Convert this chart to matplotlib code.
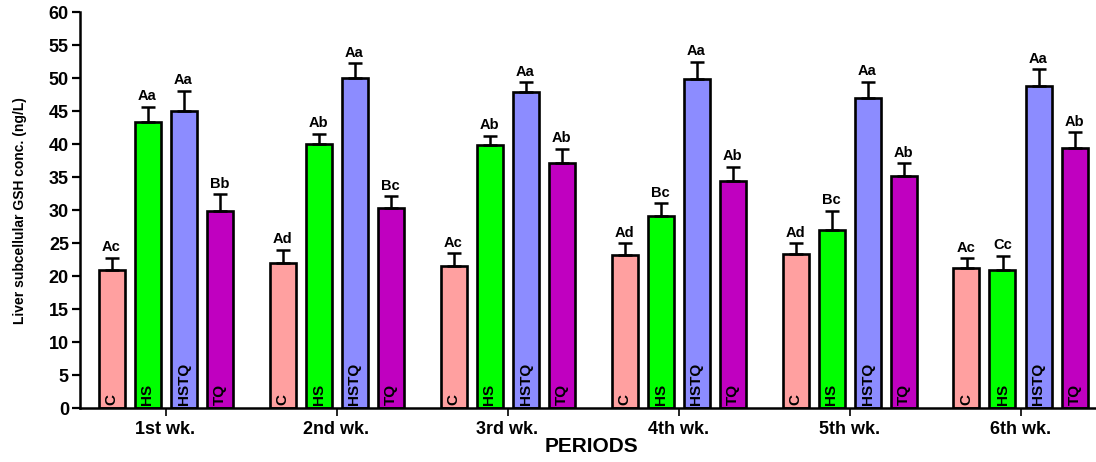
import matplotlib.pyplot as plt
import numpy as np

plt.rcParams["font.family"] = ["Liberation Sans", "DejaVu Sans"]
plt.rcParams["font.weight"] = "bold"

periods = ["1st wk.", "2nd wk.", "3rd wk.", "4th wk.", "5th wk.", "6th wk."]
groups = ["C", "HS", "HSTQ", "TQ"]

c_mean = [20.9, 22.0, 21.5, 23.2, 23.4, 21.2]
hs_mean = [43.4, 40.0, 39.9, 29.1, 27.0, 21.0]
hstq_mean = [45.0, 50.0, 48.0, 49.9, 47.0, 48.9]
tq_mean = [29.9, 30.3, 37.1, 34.5, 35.2, 39.4]

c_err = [1.9, 2.0, 2.0, 1.8, 1.6, 1.5]
hs_err = [2.3, 1.6, 1.4, 2.0, 2.9, 2.1]
hstq_err = [3.1, 2.3, 1.4, 2.6, 2.5, 2.5]
tq_err = [2.5, 1.8, 2.2, 2.1, 1.9, 2.4]

c_sig = ["Ac", "Ad", "Ac", "Ad", "Ad", "Ac"]
hs_sig = ["Aa", "Ab", "Ab", "Bc", "Bc", "Cc"]
hstq_sig = ["Aa", "Aa", "Aa", "Aa", "Aa", "Aa"]
tq_sig = ["Bb", "Bc", "Ab", "Ab", "Ab", "Ab"]

colors = ["#FFA0A0", "#00FF00", "#8C8CFF", "#C000C0"]

means = [c_mean, hs_mean, hstq_mean, tq_mean]
errs = [c_err, hs_err, hstq_err, tq_err]
sigs = [c_sig, hs_sig, hstq_sig, tq_sig]

fig = plt.figure(figsize=(10.96, 4.62), dpi=100)
ax = fig.add_axes([80 / 1096, 53.7 / 462, 1026 / 1096, 396 / 462])

x = np.arange(len(periods))
step = 36 / 171
width = 26 / 171

for k, (name, m, e, s, col) in enumerate(zip(groups, means, errs, sigs, colors)):
    pos = x + (k - 1.5) * step
    ax.bar(pos, m, width=width, color=col, edgecolor="black", linewidth=1.9, zorder=2)
    ax.errorbar(pos, m, yerr=[np.zeros(len(m)), e], fmt="none", ecolor="black",
                elinewidth=1.8, capsize=5, capthick=1.8, zorder=3)
    for xi, yi, ei, lab in zip(pos, m, e, s):
        ax.annotate(lab, (xi, yi + ei), xytext=(0, 2.5), textcoords="offset points",
                    ha="center", va="bottom", fontsize=10.5, fontweight="bold")
        ax.text(xi, 0.5, name, rotation=90, ha="center", va="bottom",
                fontsize=11, fontweight="bold", zorder=4)

ax.set_xlim(-0.5, 5.5)
ax.set_ylim(0, 60)
ax.set_yticks(np.arange(0, 61, 5))
ax.set_xticks(x)
ax.set_xticklabels(periods, fontsize=13, fontweight="bold")
ax.tick_params(axis="y", labelsize=13, width=1.6, length=6, pad=2)
ax.tick_params(axis="x", width=1.2, length=6, pad=3)
for lbl in ax.get_yticklabels():
    lbl.set_fontweight("bold")

ax.spines["top"].set_visible(False)
ax.spines["right"].set_visible(False)
ax.spines["left"].set_linewidth(1.8)
ax.spines["bottom"].set_linewidth(1.8)

ax.set_ylabel("Liver subcellular GSH conc. (ng/L)", fontsize=10, fontweight="bold")
ax.yaxis.set_label_coords(-53 / 1026, 0.5)

# axis title sits under the period labels
fig.text(591 / 1096, (462 - 447) / 462, "PERIODS", ha="center", va="center",
         fontsize=15, fontweight="bold")

fig.savefig("out.png", dpi=100)
